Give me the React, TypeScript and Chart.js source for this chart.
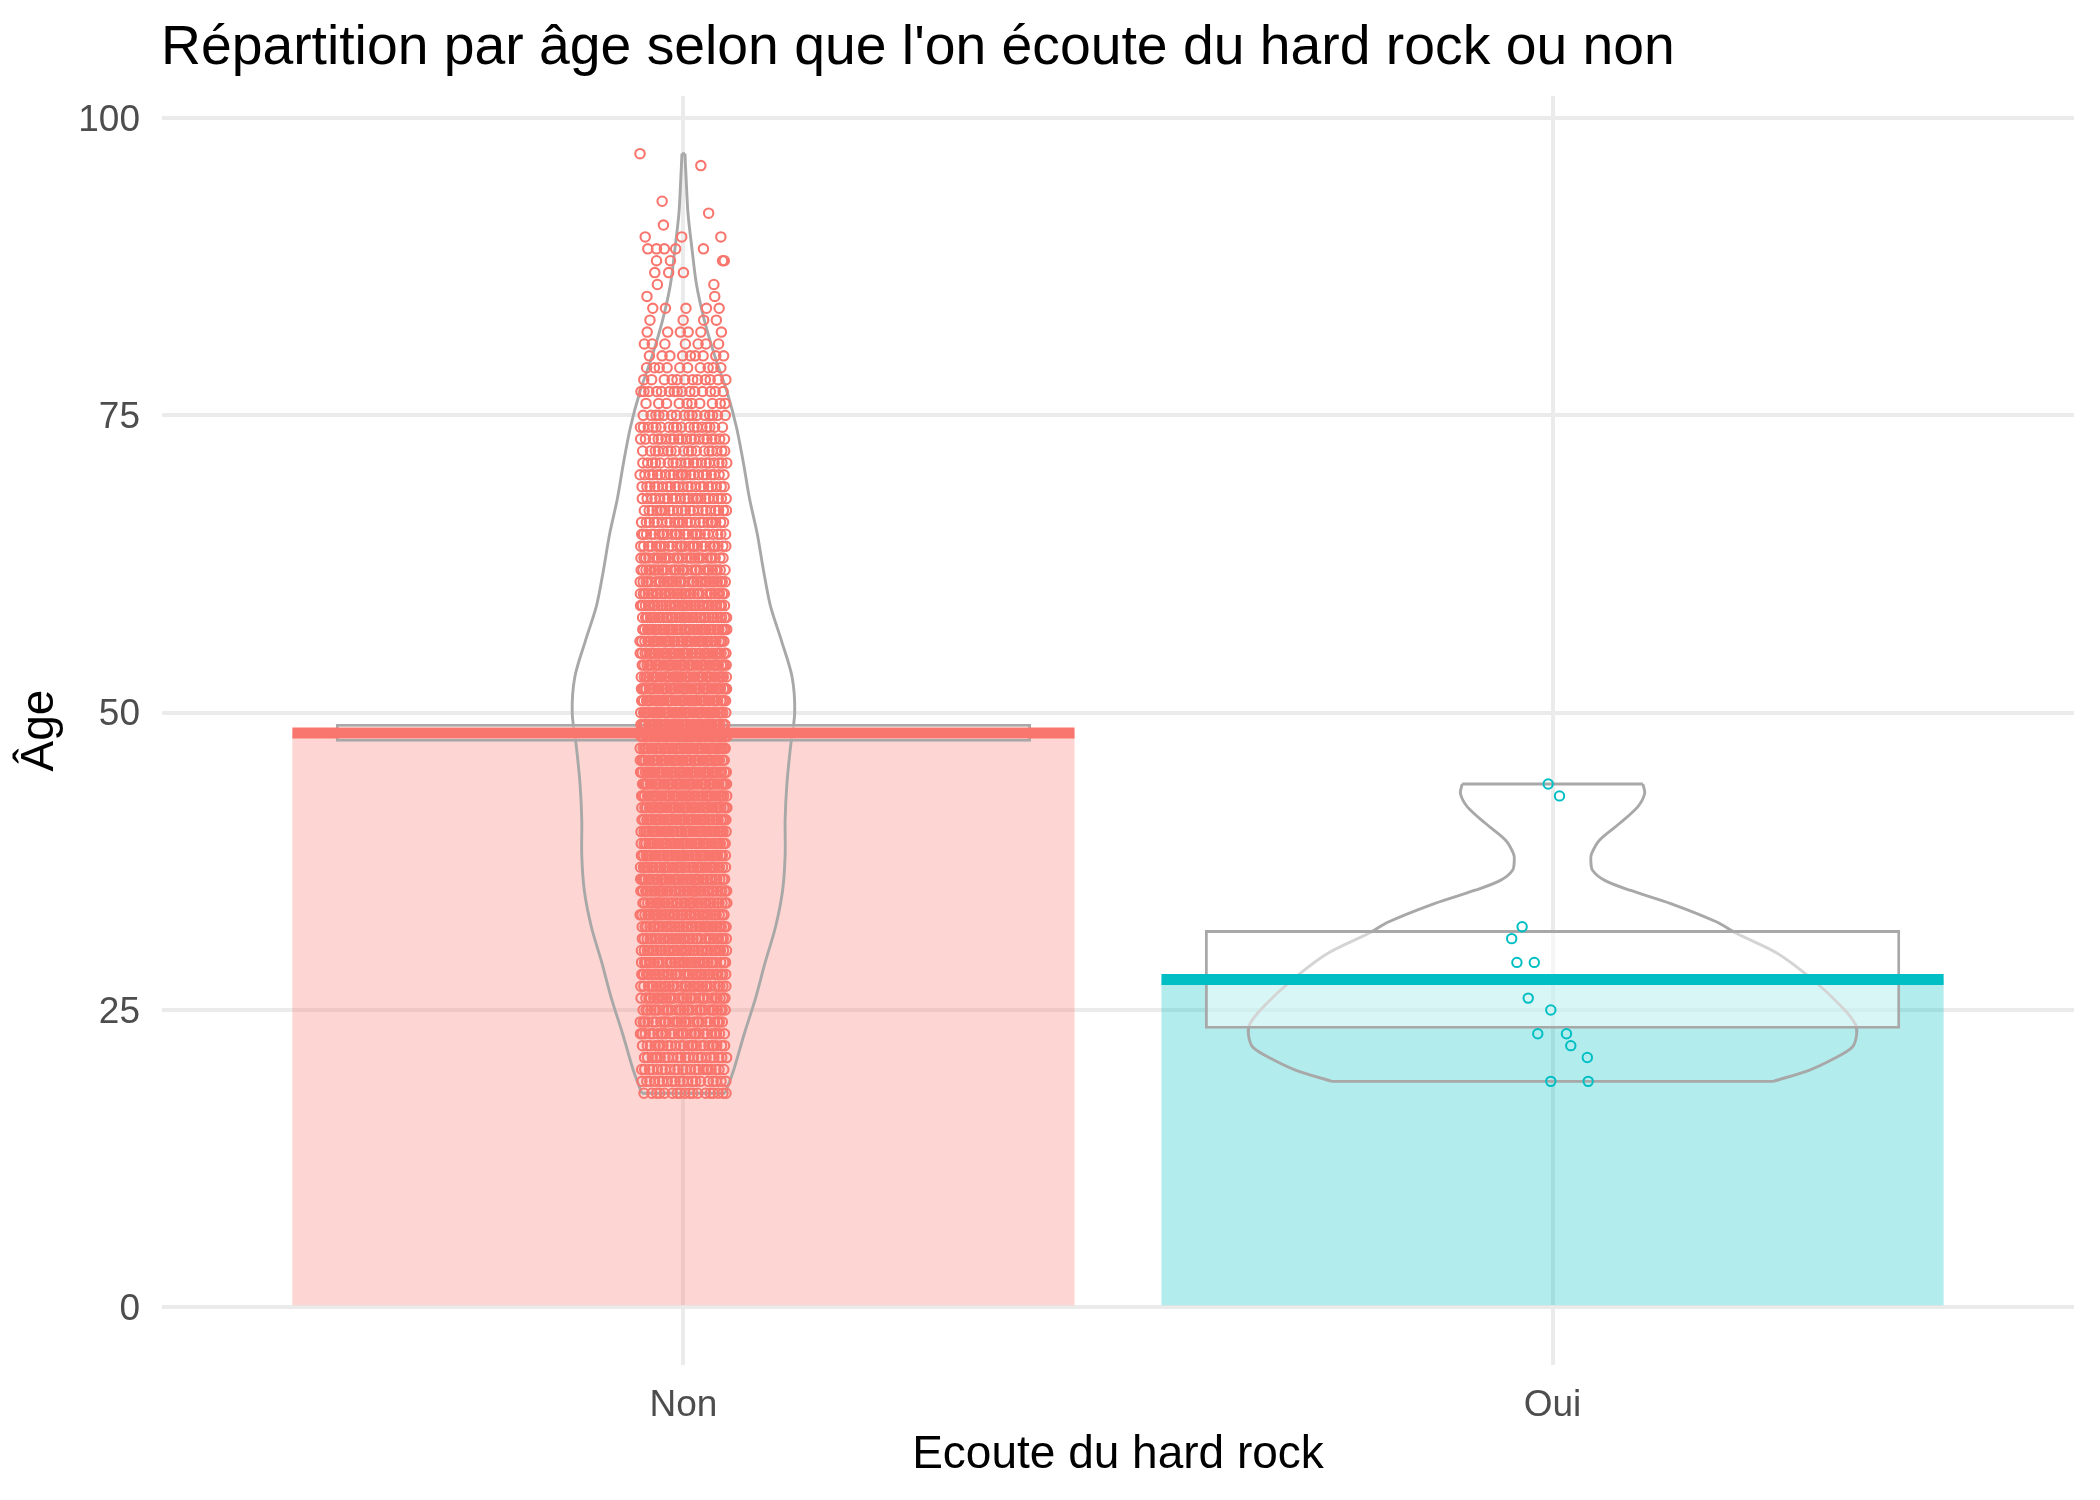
import React, { useEffect, useRef } from 'react';
import { Chart, registerables } from 'chart.js';

Chart.register(...registerables);

// ---------------- data ----------------
const categories = ['Non', 'Oui'];
const catColors = ['#F8766D', '#00BFC4'];
const barFills = ['rgba(248,118,109,0.3)', 'rgba(0,191,196,0.3)'];

// mean age per group (bar height + thick line)
const meanAge = [48.3, 27.57];
// confidence interval of the mean (box)
const ciLow = [47.55, 23.42];
const ciHigh = [49.05, 31.72];

const yTicks = [0, 25, 50, 75, 100];

// "Non" group: number of people per age, ages 18..97
const nonAgeStart = 18;
const nonAgeCounts = [
  18, 20, 22, 22, 24, 26, 27, 29, 30, 31, 33, 32, // 18-29
  34, 33, 35, 35, 36, 37, 38, 39, 39, 41, // 30-39
  40, 41, 42, 41, 42, 43, 42, 44, 43, 44, // 40-49
  45, 44, 43, 43, 42, 41, 39, 38, 36, 34, // 50-59
  33, 32, 30, 28, 26, 25, 23, 22, 22, 21, // 60-69
  22, 20, 18, 20, 18, 16, 10, 15, 12, 10, // 70-79
  9, 7, 6, 4, 5, 2, 2, 3, 4, 5, // 80-89
  3, 1, 1, 1, 0, 0, 1, 1, // 90-97
];
// horizontal jitter for the sparse oldest ages (85+)
const nonTailAges = [85, 86, 87, 88, 89, 90, 91, 92, 93, 96, 97];
const nonTailJitter = [
  [-0.042, 0.036],
  [-0.03, 0.035],
  [-0.033, -0.017, 0.0],
  [-0.031, -0.015, 0.045, 0.047],
  [-0.041, -0.031, -0.022, -0.009, 0.023],
  [-0.044, -0.002, 0.043],
  [-0.023],
  [0.029],
  [-0.0245],
  [0.02],
  [-0.05],
];

// "Oui" group: individual ages and their horizontal jitter (category units)
const ouiAges = [44, 43, 32, 31, 29, 29, 26, 25, 23, 23, 22, 21, 19, 19];
const ouiJitter = [-0.005, 0.008, -0.035, -0.047, -0.041, -0.021, -0.028, -0.002, -0.017, 0.016, 0.021, 0.04, -0.002, 0.041];

// violin outlines: age and half-width (category units)
const nonViolinAges = [18, 20, 23, 26, 29, 32, 35, 38, 41, 44, 47, 50, 53, 56, 59, 62, 65, 68, 71, 74, 77, 80, 83, 86, 89, 92, 95, 97];
const nonViolinHalf = [0.048, 0.058, 0.07, 0.083, 0.094, 0.106, 0.114, 0.117, 0.117, 0.119, 0.123, 0.128, 0.125, 0.113, 0.1, 0.092, 0.085, 0.076, 0.069, 0.061, 0.05, 0.036, 0.024, 0.015, 0.0098, 0.0052, 0.003, 0.0017];
const ouiViolinAges = [19, 19.93, 20.92, 21.89, 23.02, 23.86, 25.26, 27.5, 29.75, 31.43, 32.4, 33.95, 35.07, 35.9, 36.75, 37.6, 38.16, 39.28, 40.68, 42.08, 43.2, 44];
const ouiViolinHalf = [0.254, 0.295, 0.324, 0.345, 0.35, 0.348, 0.333, 0.3, 0.259, 0.212, 0.189, 0.136, 0.089, 0.06, 0.046, 0.044, 0.045, 0.054, 0.077, 0.098, 0.106, 0.104];

const titleText = "Répartition par âge selon que l'on écoute du hard rock ou non";
const xTitle = 'Ecoute du hard rock';
const yTitle = 'Âge';

// ---------------- helpers ----------------
const FONT = '"Liberation Sans", Arial, sans-serif';
const GAP = { x: null as any, y: null as any };

function violinPoints(center: number, ages: number[], half: number[]) {
  const n = ages.length;
  const pts: any[] = [];
  for (let i = 0; i < n; i++) pts.push({ x: center - half[i], y: ages[i] });
  pts.push(GAP);
  pts.push({ x: center - half[n - 1], y: ages[n - 1] }, { x: center + half[n - 1], y: ages[n - 1] });
  pts.push(GAP);
  for (let i = n - 1; i >= 0; i--) pts.push({ x: center + half[i], y: ages[i] });
  pts.push(GAP);
  pts.push({ x: center + half[0], y: ages[0] }, { x: center - half[0], y: ages[0] });
  return pts;
}

function nonPoints() {
  const pts: any[] = [];
  const phi = 0.6180339887;
  nonAgeCounts.forEach((count, i) => {
    const age = nonAgeStart + i;
    const tailIdx = nonTailAges.indexOf(age);
    for (let k = 0; k < count; k++) {
      let off: number;
      if (tailIdx >= 0 && nonTailJitter[tailIdx][k] !== undefined) {
        off = nonTailJitter[tailIdx][k];
      } else {
        const u = (0.5 + k * phi + age * 0.4142) % 1;
        off = (u * 2 - 1) * 0.05;
      }
      pts.push({ x: 1 + off, y: age });
    }
  });
  return pts;
}

const textPlugin = {
  id: 'textPlugin',
  afterDraw(chart: any) {
    const { ctx, chartArea } = chart;
    ctx.save();
    ctx.fillStyle = '#000000';
    ctx.textBaseline = 'alphabetic';
    ctx.font = `55.3px ${FONT}`;
    ctx.textAlign = 'left';
    ctx.fillText(titleText, chartArea.left - 1, 63.5);
    ctx.font = `46px ${FONT}`;
    ctx.textAlign = 'center';
    ctx.fillText(xTitle, (chartArea.left + chartArea.right) / 2, 1468);
    ctx.translate(53, (chartArea.top + chartArea.bottom) / 2);
    ctx.rotate(-Math.PI / 2);
    ctx.fillText(yTitle, 0, 0);
    ctx.restore();
  },
};

export default function App() {
  const ref = useRef<HTMLCanvasElement | null>(null);

  useEffect(() => {
    document.body.style.margin = '0';
    const canvas = ref.current;
    if (!canvas) return;

    const datasets: any[] = [];

    // bars (mean)
    datasets.push({
      type: 'bar',
      data: categories.map((_, i) => ({ x: i + 1, y: meanAge[i] })),
      backgroundColor: barFills,
      borderWidth: 0,
      grouped: false,
      categoryPercentage: 1,
      barPercentage: 0.9,
      order: 5,
    });

    // violins
    const violinData = [violinPoints(1, nonViolinAges, nonViolinHalf), violinPoints(2, ouiViolinAges, ouiViolinHalf)];
    violinData.forEach((d) => {
      datasets.push({
        type: 'line',
        data: d,
        borderColor: '#A8A8A8',
        borderWidth: 2.9,
        pointRadius: 0,
        fill: false,
        spanGaps: false,
        tension: 0.3,
        order: 4,
      });
    });

    // CI boxes
    datasets.push({
      type: 'bar',
      data: categories.map((_, i) => ({ x: i + 1, y: [ciLow[i], ciHigh[i]] })),
      backgroundColor: 'rgba(255,255,255,0.5)',
      borderColor: '#A8A8A8',
      borderWidth: 2.9,
      borderSkipped: false,
      grouped: false,
      categoryPercentage: 1,
      barPercentage: 0.8,
      order: 3,
    });

    // mean lines
    categories.forEach((_, i) => {
      datasets.push({
        type: 'line',
        data: [
          { x: i + 1 - 0.45, y: meanAge[i] },
          { x: i + 1 + 0.45, y: meanAge[i] },
        ],
        borderColor: catColors[i],
        borderWidth: 11,
        borderCapStyle: 'butt',
        pointRadius: 0,
        fill: false,
        order: 2,
      });
    });

    // points
    datasets.push({
      type: 'line',
      data: nonPoints(),
      showLine: false,
      pointRadius: 4.7,
      pointBorderWidth: 2.1,
      pointBackgroundColor: 'rgba(0,0,0,0)',
      pointBorderColor: catColors[0],
      order: 1,
    });
    datasets.push({
      type: 'line',
      data: ouiAges.map((a, i) => ({ x: 2 + ouiJitter[i], y: a })),
      showLine: false,
      pointRadius: 4.7,
      pointBorderWidth: 2.0,
      pointBackgroundColor: 'rgba(0,0,0,0)',
      pointBorderColor: catColors[1],
      order: 0,
    });

    const chart = new Chart(canvas, {
      type: 'bar',
      data: { datasets },
      plugins: [textPlugin],
      options: {
        responsive: false,
        maintainAspectRatio: false,
        animation: false,
        events: [],
        devicePixelRatio: 1,
        layout: { padding: { top: 96, right: 26, left: 0, bottom: 0 } },
        plugins: {
          legend: { display: false },
          tooltip: { enabled: false },
          title: { display: false },
        },
        scales: {
          x: {
            type: 'linear',
            min: 0.4,
            max: 2.6,
            offset: false,
            afterBuildTicks: (s: any) => {
              s.ticks = categories.map((_, i) => ({ value: i + 1 }));
            },
            afterFit: (s: any) => {
              s.height = 135;
            },
            ticks: {
              autoSkip: false,
              maxRotation: 0,
              padding: 19,
              color: '#4D4D4D',
              font: { family: FONT, size: 37 },
              callback: (v: any) => categories[Math.round(Number(v)) - 1] ?? '',
            },
            grid: { color: '#EBEBEB', lineWidth: 4, drawTicks: false, offset: false },
            border: { display: false },
          },
          y: {
            type: 'linear',
            min: -4.85,
            max: 101.85,
            afterBuildTicks: (s: any) => {
              s.ticks = yTicks.map((v) => ({ value: v }));
            },
            afterFit: (s: any) => {
              s.width = 162;
            },
            ticks: {
              padding: 22,
              labelOffset: 2.5,
              color: '#4D4D4D',
              font: { family: FONT, size: 37 },
              callback: (v: any) => String(v),
            },
            grid: { color: '#EBEBEB', lineWidth: 4, drawTicks: false },
            border: { display: false },
          },
        },
      } as any,
    });

    return () => {
      chart.destroy();
    };
  }, []);

  return (
    <div style={{ width: 2100, height: 1500, background: '#ffffff' }}>
      <canvas ref={ref} width={2100} height={1500} style={{ display: 'block' }} />
    </div>
  );
}
